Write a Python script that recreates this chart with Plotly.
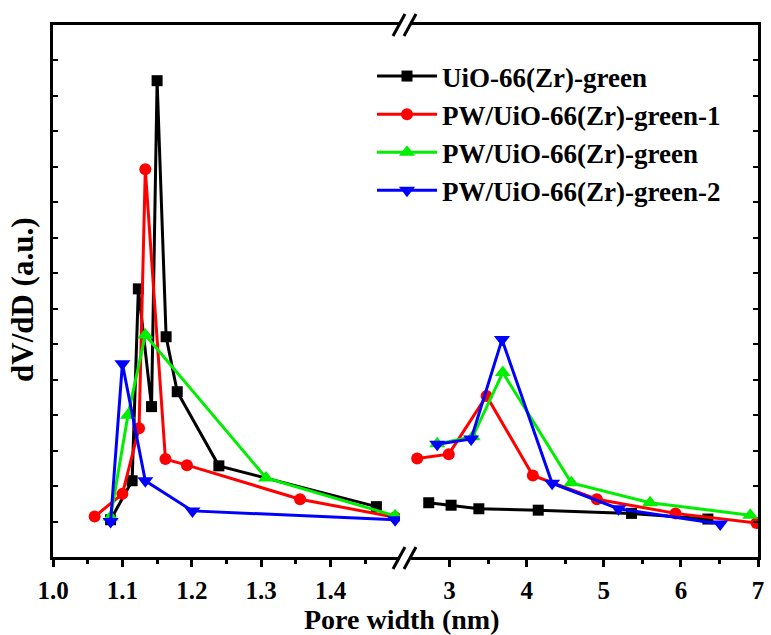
import plotly.graph_objects as go

# ---- data: left segment (1.0-1.5 nm) ----
black_l_x = [1.083, 1.114, 1.123, 1.142, 1.150, 1.163, 1.179, 1.239, 1.466]
black_l_y = [1.05, 2.15, 7.56, 4.24, 13.43, 6.21, 4.66, 2.57, 1.42]
red_l_x = [1.060, 1.100, 1.124, 1.133, 1.162, 1.193, 1.356, 1.493]
red_l_y = [1.14, 1.78, 3.63, 10.93, 2.76, 2.59, 1.63, 1.12]
green_l_x = [1.083, 1.108, 1.133, 1.307, 1.493]
green_l_y = [1.13, 4.00, 6.26, 2.23, 1.16]
blue_l_x = [1.083, 1.100, 1.133, 1.201, 1.493]
blue_l_y = [1.00, 5.45, 2.15, 1.30, 1.05]

# ---- data: right segment (2.5-7 nm) ----
black_r_x = [2.73, 3.02, 3.38, 4.15, 5.36, 6.35]
black_r_y = [1.53, 1.46, 1.36, 1.32, 1.23, 1.07]
red_r_x = [2.58, 2.99, 3.48, 4.08, 4.91, 5.93, 6.98]
red_r_y = [2.78, 2.90, 4.54, 2.30, 1.63, 1.23, 0.96]
green_r_x = [2.84, 3.30, 3.69, 4.58, 5.60, 6.90]
green_r_y = [3.19, 3.39, 5.20, 2.09, 1.53, 1.18]
blue_r_x = [2.84, 3.28, 3.68, 4.33, 5.19, 6.51]
blue_r_y = [3.18, 3.33, 6.13, 2.08, 1.36, 0.93]

left_ticks = [1.0, 1.1, 1.2, 1.3, 1.4]
left_ticklabels = ["1.0", "1.1", "1.2", "1.3", "1.4"]
right_ticks = [3, 4, 5, 6, 7]

names = ["UiO-66(Zr)-green", "PW/UiO-66(Zr)-green-1",
         "PW/UiO-66(Zr)-green", "PW/UiO-66(Zr)-green-2"]
colors = ["#000000", "#ff0000", "#00ee00", "#0000ff"]
symbols = ["square", "circle", "triangle-up", "triangle-down"]
sizes = [11, 12, 14, 14]

left = [(black_l_x, black_l_y), (red_l_x, red_l_y), (green_l_x, green_l_y), (blue_l_x, blue_l_y)]
right = [(black_r_x, black_r_y), (red_r_x, red_r_y), (green_r_x, green_r_y), (blue_r_x, blue_r_y)]

FONT = "Liberation Serif"
def F(size):
    return dict(family=FONT, size=size, color="black", weight="bold")

fig = go.Figure()
for i in range(4):
    fig.add_trace(go.Scatter(
        x=left[i][0], y=left[i][1], mode="lines+markers", name=names[i],
        line=dict(color=colors[i], width=3),
        marker=dict(symbol=symbols[i], size=sizes[i], color=colors[i]),
        xaxis="x", yaxis="y", legendgroup=names[i], showlegend=True))
for i in range(4):
    fig.add_trace(go.Scatter(
        x=right[i][0], y=right[i][1], mode="lines+markers", name=names[i],
        line=dict(color=colors[i], width=3),
        marker=dict(symbol=symbols[i], size=sizes[i], color=colors[i]),
        xaxis="x2", yaxis="y2", legendgroup=names[i], showlegend=False))

W, H = 771, 635
L, R, T, B = 53, 13, 25, 78
pw = W - L - R
ph = H - T - B
d1 = (400 - L) / pw
d2 = (411 - L) / pw

axis_common = dict(showline=True, linecolor="black", linewidth=3, mirror=True,
                   ticks="outside", ticklen=7, tickwidth=3, tickcolor="black",
                   showgrid=False, zeroline=False, automargin=False,
                   tickfont=F(25), ticklabelstandoff=2)

fig.update_layout(
    width=W, height=H, margin=dict(l=L, r=R, t=T, b=B, autoexpand=False),
    paper_bgcolor="white", plot_bgcolor="white",
    font=dict(family=FONT, color="black"),
    xaxis=dict(domain=[0, d1], range=[1.0, 1.5], tickvals=left_ticks,
               ticktext=left_ticklabels,
               minor=dict(tickvals=[1.05, 1.15, 1.25, 1.35, 1.45], ticks="outside",
                          ticklen=4, tickwidth=3, tickcolor="black"),
               anchor="y", **axis_common),
    xaxis2=dict(domain=[d2, 1], range=[2.5, 7], tickvals=right_ticks,
                minor=dict(tickvals=[3.5, 4.5, 5.5, 6.5], ticks="outside",
                           ticklen=4, tickwidth=3, tickcolor="black"),
                anchor="y2", **axis_common),
    yaxis=dict(range=[0, 15], showline=True, linecolor="black", linewidth=3,
               ticks="inside", ticklen=5, tickwidth=2, tickcolor="black", dtick=1,
               showticklabels=False, showgrid=False, zeroline=False, anchor="x"),
    yaxis2=dict(range=[0, 15], showline=True, linecolor="black", linewidth=3,
                ticks="inside", ticklen=5, tickwidth=2, tickcolor="black", dtick=1,
                showticklabels=False, showgrid=False, zeroline=False,
                anchor="x2", side="right", matches="y"),
    legend=dict(x=(372 - L) / pw, y=1 - (52 - T) / ph, xanchor="left", yanchor="top",
                font=F(27), itemwidth=60,
                bgcolor="rgba(0,0,0,0)", tracegroupgap=0),
    showlegend=True,
)

# axis titles as annotations
fig.add_annotation(text="Pore width (nm)", xref="paper", yref="paper",
                   x=(401 - L) / pw, y=-(619 - (H - B)) / ph, xanchor="center", yanchor="middle",
                   showarrow=False, font=F(28))
fig.add_annotation(text="dV/dD (a.u.)", xref="paper", yref="paper",
                   x=-(L - 22) / pw, y=1 - (300 - T) / ph, xanchor="center", yanchor="middle",
                   textangle=-90, showarrow=False, font=F(31))

# axis-break marks (paper pixel positions)
def px(xp):
    return (xp - L) / pw
def py(yp):
    return 1 - (yp - T) / ph

for yc in (25, 558):
    fig.add_shape(type="rect", xref="paper", yref="paper",
                  x0=px(400), x1=px(411), y0=py(yc + 2), y1=py(yc - 2),
                  fillcolor="white", line=dict(width=0), layer="above")
    for dx in (0, 11):
        fig.add_shape(type="line", xref="paper", yref="paper",
                      x0=px(393 + dx), y0=py(yc + 11), x1=px(405 + dx), y1=py(yc - 11),
                      line=dict(color="black", width=3), layer="above")

fig.write_html("out.html")
